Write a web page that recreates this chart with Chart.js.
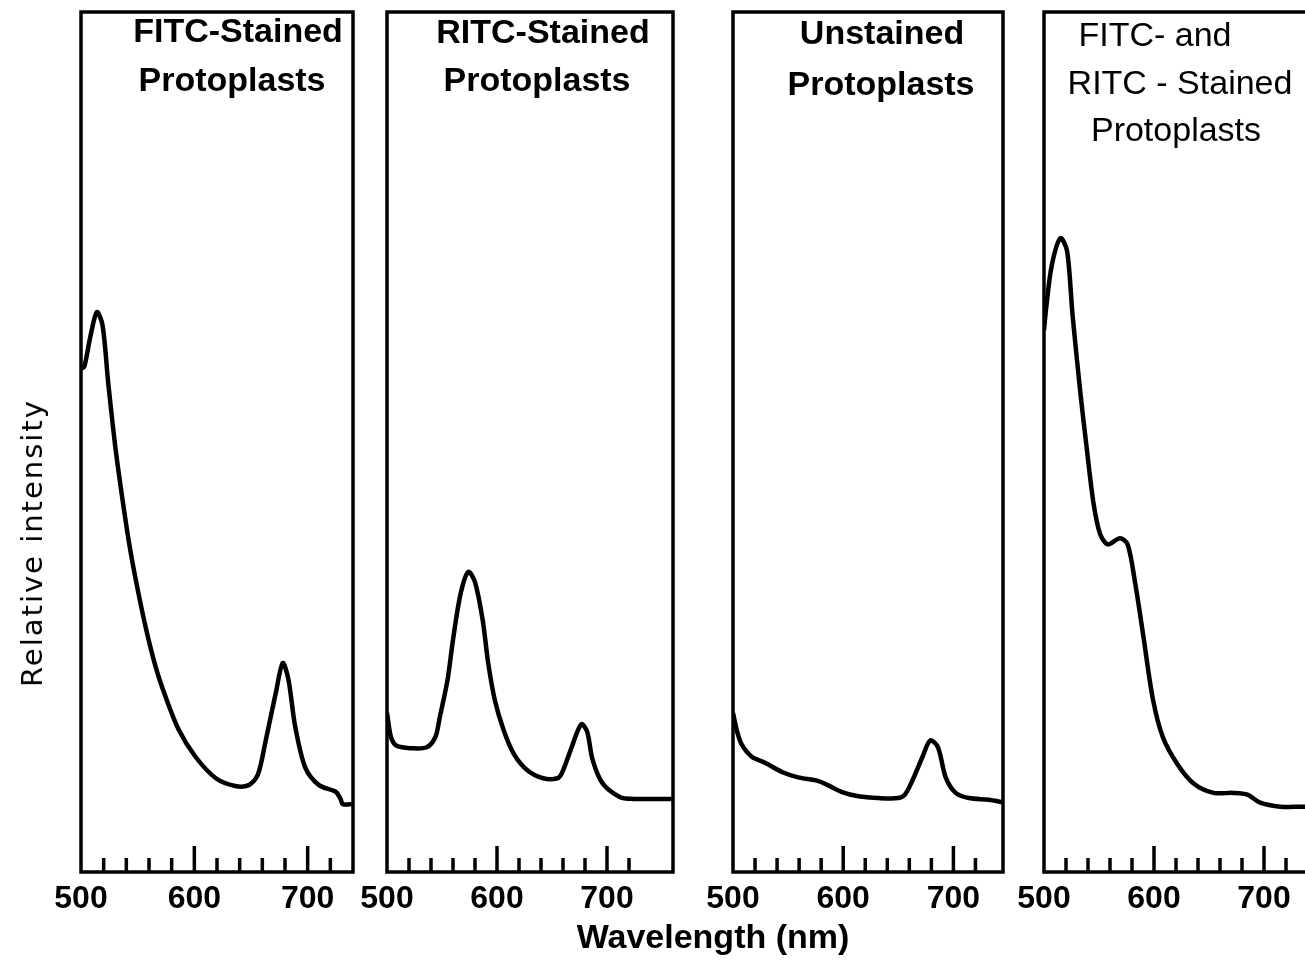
<!DOCTYPE html>
<html>
<head>
<meta charset="utf-8">
<script src="https://cdn.jsdelivr.net/npm/chart.js@4.4.0/dist/chart.umd.min.js"></script>
<style>
  body { margin: 0; background: #fff; width: 1305px; height: 967px; overflow: hidden; position: relative; }
  .panel { position: absolute; top: 0; }
  .axtitle { position: absolute; color: #000; white-space: nowrap; }
  #ylab { left: 32px; top: 543px; font: 29px "DejaVu Sans"; letter-spacing: 2px; transform: translate(-50%, -50%) rotate(-90deg); }
  #xlab { left: 713px; top: 919px; font: bold 34px "Liberation Sans"; line-height: 34px; transform: translateX(-50%); }
</style>
</head>
<body>
<div class="panel" style="left:31px"><canvas id="c1" width="372" height="967"></canvas></div>
<div class="panel" style="left:337px"><canvas id="c2" width="386" height="967"></canvas></div>
<div class="panel" style="left:683px"><canvas id="c3" width="370" height="967"></canvas></div>
<div class="panel" style="left:994px"><canvas id="c4" width="386" height="967"></canvas></div>
<div class="axtitle" id="ylab">Relative intensity</div>
<div class="axtitle" id="xlab">Wavelength (nm)</div>
<script>
// emission spectra, wavelength (nm) vs relative intensity (0-100)
var fitcWl = [500, 503, 508, 514, 519, 524, 530, 535, 542, 548, 557, 566, 574, 586, 601, 619, 636, 648, 656, 663, 672, 678, 683, 689, 698, 710, 725, 729, 731, 740];
var fitcI  = [58.5, 58.8, 62.1, 65.1, 63.6, 56.9, 49.7, 44.8, 38.6, 34.2, 28.5, 23.8, 20.6, 16.6, 13.4, 10.9, 10.0, 10.1, 11.3, 15.3, 20.9, 24.3, 22.4, 16.9, 12.1, 10.1, 9.3, 8.5, 7.9, 7.9];

var ritcWl = [500, 503, 506, 510, 521, 536, 544, 548, 555, 560, 567, 574, 580, 587, 592, 598, 606, 615, 627, 642, 655, 659, 667, 673, 677, 682, 687, 696, 712, 724, 760];
var ritcI  = [18.5, 16.0, 15.0, 14.6, 14.4, 14.5, 15.7, 18.0, 22.3, 27.0, 32.4, 34.9, 33.7, 29.3, 24.3, 20.0, 16.5, 13.8, 11.9, 10.9, 10.9, 11.5, 14.2, 16.3, 17.2, 16.3, 13.0, 10.3, 8.7, 8.5, 8.5];

var unstWl = [500, 504, 508, 517, 529, 545, 559, 577, 586, 599, 614, 632, 650, 656, 663, 672, 679, 686, 693, 702, 714, 732, 745];
var unstI  = [18.5, 16.2, 14.8, 13.4, 12.7, 11.6, 11.0, 10.6, 10.1, 9.3, 8.8, 8.6, 8.6, 9.0, 10.7, 13.4, 15.3, 14.5, 11.0, 9.2, 8.6, 8.4, 8.1];

var bothWl = [500, 502, 507, 515, 521, 526, 533, 539, 545, 551, 558, 569, 576, 583, 590, 599, 608, 621, 636, 654, 672, 685, 696, 715, 736, 760];
var bothI  = [63, 65.6, 70.5, 73.7, 72.2, 64.7, 55.8, 49.1, 42.9, 39.3, 38.1, 38.8, 38.1, 33.5, 27.7, 20.1, 15.7, 12.6, 10.3, 9.2, 9.2, 9.0, 8.1, 7.6, 7.6, 7.6];

var tickLabels = ['500', '600', '700'];

var fitcTitle = ['FITC-Stained', 'Protoplasts'];
var ritcTitle = ['RITC-Stained', 'Protoplasts'];
var unstTitle = ['Unstained', 'Protoplasts'];
var bothTitle = ['FITC- and', 'RITC - Stained', 'Protoplasts'];

// box, inward tick marks and the panel captions
var panelDeco = {
    id: 'panelDeco',
    afterDraw(chart, args, opts) {
        var ctx = chart.ctx;
        var a = chart.chartArea;
        var x = chart.scales.x;
        ctx.save();
        ctx.strokeStyle = '#000';
        ctx.lineWidth = 3.5;
        ctx.strokeRect(a.left, a.top, a.right - a.left, a.bottom - a.top);
        x.ticks.forEach(function (t) {
            if (t.value <= x.min || t.value > 720) return;
            var px = x.getPixelForValue(t.value);
            var len = t.value % 100 === 0 ? 26 : 14;
            ctx.beginPath();
            ctx.moveTo(px, a.bottom);
            ctx.lineTo(px, a.bottom - len);
            ctx.stroke();
        });
        ctx.fillStyle = '#000';
        ctx.font = opts.font;
        ctx.textAlign = 'center';
        ctx.textBaseline = 'middle';
        opts.lines.forEach(function (s, i) {
            ctx.fillText(s, a.left + opts.pos[i][0], opts.pos[i][1]);
        });
        ctx.restore();
    }
};

function makePanel(id, wl, inten, xMax, lines, pos, font) {
    var pts = wl.map(function (w, i) { return { x: w, y: inten[i] }; });
    new Chart(document.getElementById(id), {
        type: 'line',
        data: {
            datasets: [{
                data: pts,
                borderColor: '#000',
                borderWidth: 4.5,
                pointRadius: 0,
                fill: false,
                tension: 0.3
            }]
        },
        options: {
            responsive: false,
            animation: false,
            events: [],
            layout: { padding: { left: 50, right: 50, top: 12, bottom: 0 } },
            plugins: {
                legend: { display: false },
                tooltip: { enabled: false },
                panelDeco: { lines: lines, pos: pos, font: font }
            },
            scales: {
                x: {
                    type: 'linear',
                    min: 500,
                    max: xMax,
                    afterFit: function (s) { s.height = 95; },
                    grid: { display: false, drawTicks: false },
                    border: { display: false },
                    ticks: {
                        stepSize: 20,
                        autoSkip: false,
                        maxRotation: 0,
                        padding: 8,
                        color: '#000',
                        font: { family: 'Liberation Sans', weight: 'bold', size: 32 },
                        callback: function (v) {
                            return tickLabels.indexOf(String(v)) >= 0 ? String(v) : '';
                        }
                    }
                },
                y: { display: false, min: 0, max: 100 }
            }
        },
        plugins: [panelDeco]
    });
}

var boldTitle = 'bold 34px "Liberation Sans"';
makePanel('c1', fitcWl, fitcI, 740, fitcTitle, [[157, 33], [151, 82]], boldTitle);
makePanel('c2', ritcWl, ritcI, 760, ritcTitle, [[156, 34], [150, 82]], boldTitle);
makePanel('c3', unstWl, unstI, 745, unstTitle, [[149, 35], [148, 86]], boldTitle);
makePanel('c4', bothWl, bothI, 760, bothTitle, [[111, 37], [136, 85], [132, 132]], '34px "Liberation Sans"');
</script>
</body>
</html>
